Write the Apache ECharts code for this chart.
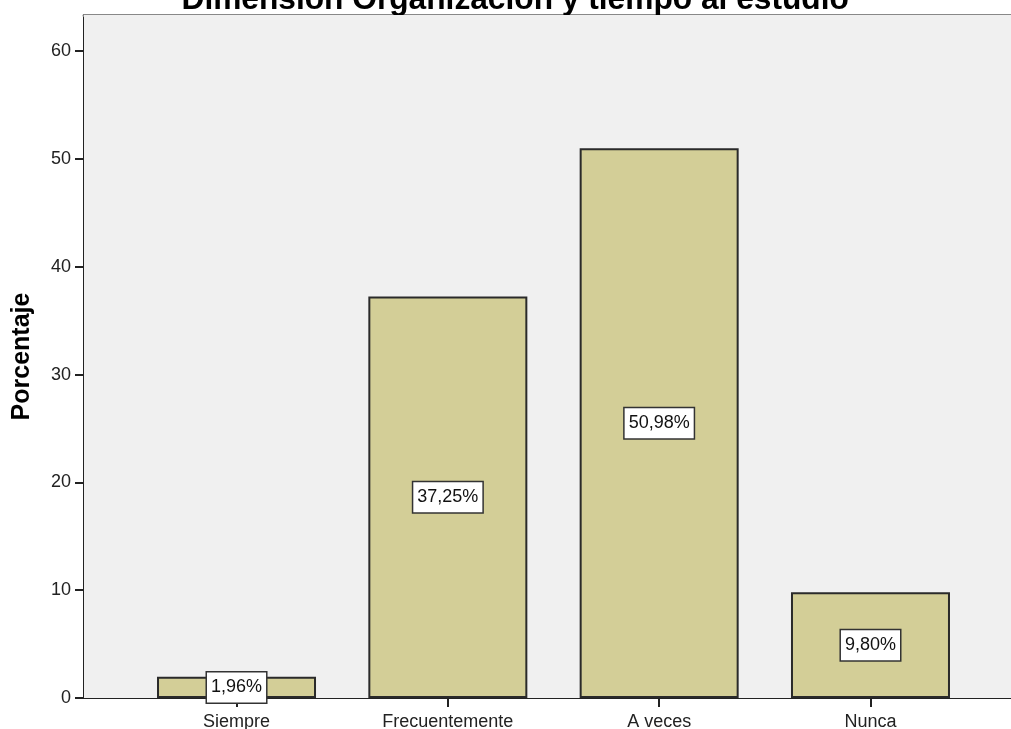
<!DOCTYPE html>
<html>
<head>
<meta charset="utf-8">
<script src="https://cdn.jsdelivr.net/npm/echarts@6/dist/echarts.min.js"></script>
<style>
html,body{margin:0;padding:0;background:#fff;}
#c{width:1011px;height:729px;}
</style>
</head>
<body>
<div id="c"></div>
<script>
const titleText = 'Dimensión Organización y tiempo al estudio';
const categories = ['Siempre', 'Frecuentemente', 'A veces', 'Nunca'];
const percentages = [1.96, 37.25, 50.98, 9.80];
const yTicks = [0, 10, 20, 30, 40, 50, 60];
const yName = 'Porcentaje';

const FONT = '"Liberation Sans", Arial, sans-serif';
const YMAX = 63.35;

const chart = echarts.init(document.getElementById('c'));
chart.setOption({
  animation: false,
  title: {
    text: titleText,
    left: 176.5,
    top: -21,
    z: 0,
    textStyle: { fontFamily: FONT, fontSize: 31.7, fontWeight: 'bold', color: '#000' }
  },
  grid: [
    { left: 130.85, right: 34.85, top: 15, bottom: 31, show: false, z: 3, containLabel: false, outerBoundsMode: 'none' },
    { left: 84, right: 0, top: 15, bottom: 31, show: true, backgroundColor: '#f0f0f0', borderWidth: 0, z: 2, containLabel: false, outerBoundsMode: 'none' }
  ],
  xAxis: [
    {
      type: 'category', gridIndex: 0, data: categories,
      axisLine: { show: false },
      axisTick: { show: true, alignWithLabel: true, length: 9, lineStyle: { color: '#222', width: 2 } },
      axisLabel: { fontFamily: FONT, fontSize: 18, color: '#222', margin: 15 },
      splitLine: { show: false }
    },
    {
      type: 'value', gridIndex: 1, min: 0, max: 1,
      axisLine: { show: true, lineStyle: { color: '#222', width: 2 } },
      axisTick: { show: false }, axisLabel: { show: false }, splitLine: { show: false }
    },
    {
      type: 'value', gridIndex: 1, position: 'top', min: 0, max: 1,
      axisLine: { show: true, lineStyle: { color: '#888', width: 3 } },
      axisTick: { show: false }, axisLabel: { show: false }, splitLine: { show: false }
    }
  ],
  yAxis: [
    {
      type: 'value', gridIndex: 0, min: 0, max: YMAX,
      show: false, splitLine: { show: false }
    },
    {
      type: 'value', gridIndex: 1, min: 0, max: YMAX, interval: 10,
      name: yName, nameLocation: 'middle', nameGap: 49, nameRotate: 90,
      nameTextStyle: { fontFamily: FONT, fontSize: 25, fontWeight: 'bold', color: '#000' },
      axisLine: { show: true, lineStyle: { color: '#222', width: 2 } },
      axisTick: { show: true, length: 9, customValues: yTicks, lineStyle: { color: '#222', width: 2 } },
      axisLabel: { fontFamily: FONT, fontSize: 18, color: '#222', margin: 13, customValues: yTicks },
      splitLine: { show: false }
    }
  ],
  series: [{
    type: 'bar',
    xAxisIndex: 0, yAxisIndex: 0,
    data: percentages,
    barWidth: 159,
    z: 5,
    itemStyle: { color: '#d3ce97', borderColor: '#2a2a2a', borderWidth: 2 },
    label: {
      show: true, position: 'inside',
      formatter: p => p.value.toFixed(2).replace('.', ',') + '%',
      fontFamily: FONT, fontSize: 18, color: '#111',
      backgroundColor: '#fff', borderColor: '#333', borderWidth: 1.5,
      padding: [5, 4, 5, 4], lineHeight: 20
    }
  }]
});
</script>
</body>
</html>
